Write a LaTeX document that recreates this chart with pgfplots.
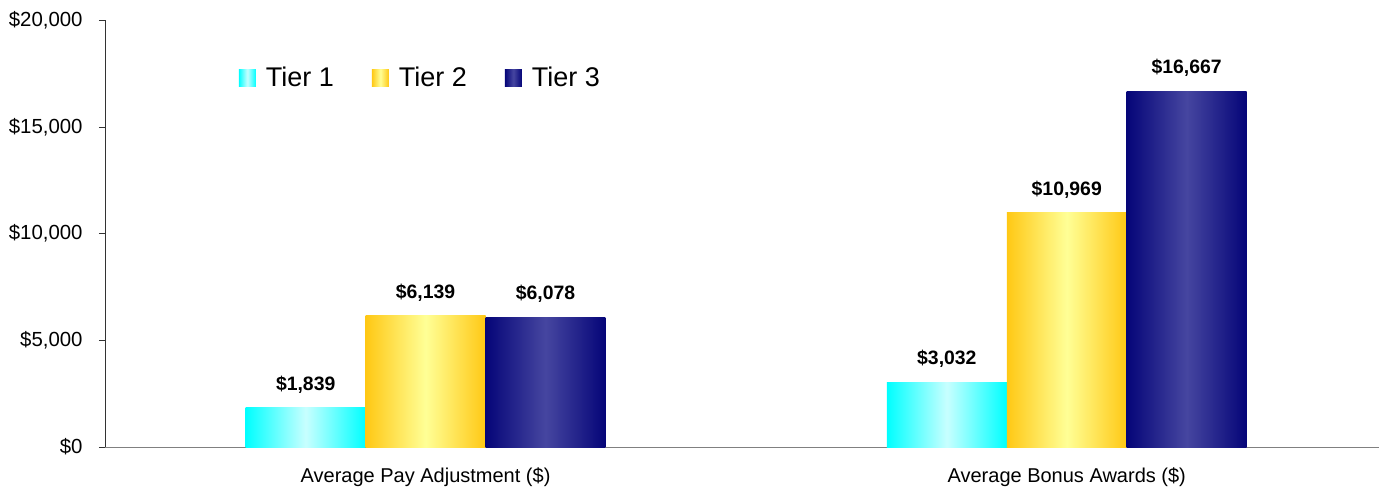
\documentclass[border=0pt]{standalone}
\usepackage{fontspec}
\setmainfont{Liberation Sans}
\usepackage{pgfplots}
\pgfplotsset{compat=1.18}

\definecolor{cyanedge}{RGB}{0,255,255}
\definecolor{cyanmid}{RGB}{200,255,255}
\definecolor{goldedge}{RGB}{255,200,20}
\definecolor{goldmid}{RGB}{255,255,150}
\definecolor{navyedge}{RGB}{5,5,120}
\definecolor{navymid}{RGB}{70,70,160}

% edge - light centre - edge, the path box covers 25bp..75bp
\pgfdeclarehorizontalshading{cyanbar}{100bp}{color(0bp)=(cyanedge); color(25bp)=(cyanedge); color(50bp)=(cyanmid); color(75bp)=(cyanedge); color(100bp)=(cyanedge)}
\pgfdeclarehorizontalshading{goldbar}{100bp}{color(0bp)=(goldedge); color(25bp)=(goldedge); color(50bp)=(goldmid); color(75bp)=(goldedge); color(100bp)=(goldedge)}
\pgfdeclarehorizontalshading{navybar}{100bp}{color(0bp)=(navyedge); color(25bp)=(navyedge); color(50bp)=(navymid); color(75bp)=(navyedge); color(100bp)=(navyedge)}

% one bar per plot, so that every bar gets its own shading box
\pgfplotsset{
    tierA/.style={draw=none, shade, shading=cyanbar, bar shift=-0.187},
    tierB/.style={draw=none, shade, shading=goldbar, bar shift=0},
    tierC/.style={draw=none, shade, shading=navybar, bar shift=0.187},
}

\begin{document}
\begin{tikzpicture}
\begin{axis}[
    scale only axis,
    width=637pt, height=213.5pt,
    ybar, bar width=0.187,
    xmin=-0.5, xmax=1.487, ymin=0, ymax=20000,
    axis x line=bottom, axis y line=left,
    axis line style={-},
    x axis line style={draw=gray},
    y axis line style={draw=black!80},
    tick align=outside,
    major tick length=3pt,
    xtick={0,1},
    xticklabels={Average Pay Adjustment (\$), Average Bonus Awards (\$)},
    xtick style={draw=none},
    extra x ticks={0.5},
    extra x tick labels={},
    extra x tick style={tick style={draw=gray}},
    xticklabel style={font=\fontsize{10}{12}\selectfont, inner sep=0pt, yshift=-7pt},
    ytick={0,5000,10000,15000,20000},
    scaled y ticks=false,
    yticklabel={\$\pgfmathprintnumber{\tick}},
    yticklabel style={font=\fontsize{10.2}{12}\selectfont, inner sep=0pt, xshift=-8pt},
    ytick style={draw=black!80},
    /pgf/number format/.cd, fixed, precision=0, 1000 sep={,}, assume math mode=true,
    /pgfplots/.cd,
    nodes near coords={\$\pgfmathprintnumber{\pgfplotspointmeta}},
    every node near coord/.append style={font=\bfseries\fontsize{9.7}{12}\selectfont, anchor=south, inner sep=0pt, yshift=7pt},
    legend style={at={(0.100,0.864)}, anchor=west, draw=none, fill=none,
        font=\fontsize{13.5}{16}\selectfont,
        /tikz/every odd column/.append style={column sep=3pt},
        /tikz/every even column/.append style={column sep=17pt}},
    legend columns=3,
    legend image code/.code={\path[#1] (0pt,-4.25pt) rectangle (8.5pt,4.25pt);},
]
\addplot[tierA] coordinates {(0,1839)};
\addlegendentry{Tier 1}
\addplot[tierB] coordinates {(0,6139)};
\addlegendentry{Tier 2}
\addplot[tierC] coordinates {(0,6078)};
\addlegendentry{Tier 3}
\addplot[tierA, forget plot] coordinates {(1,3032)};
\addplot[tierB, forget plot] coordinates {(1,10969)};
\addplot[tierC, forget plot] coordinates {(1,16667)};
\end{axis}
\pgfresetboundingbox
\useasboundingbox (-52.5pt,-21pt) rectangle (637pt,223.5pt);
\end{tikzpicture}
\end{document}
